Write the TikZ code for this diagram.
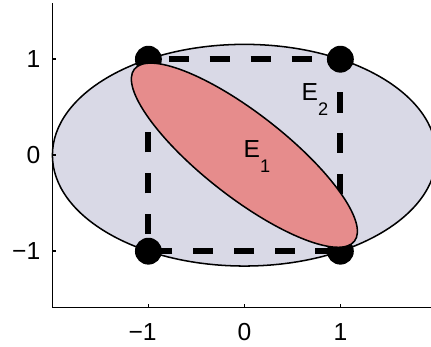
\documentclass[tikz,border=0pt]{standalone}
\usepackage{fontspec}
\setmainfont{Liberation Sans}
\definecolor{efill}{RGB}{217,217,230}
\definecolor{rfill}{RGB}{230,140,140}
\tikzset{
  axisline/.style={line width=0.5pt},
  ellline/.style={line width=0.45pt, draw=black},
  dashsq/.style={line width=1.8pt, dash pattern=on 0.213cm off 0.213cm, dash phase=0.213cm},
  dotnode/.style={circle, fill=black, inner sep=0pt, minimum size=0.28cm},
  ticklabel/.style={inner sep=0pt, font=\fontsize{7.3}{8}\selectfont},
  elabel/.style={inner sep=0pt, anchor=base west, font=\fontsize{7.3}{8}\selectfont},
}
\newcommand{\subdigit}[1]{\raisebox{-4.7pt}{\fontsize{5.4}{6}\selectfont #1}}
\begin{document}
\begin{tikzpicture}[x=1cm,y=1cm]
\useasboundingbox (-2.546,-1.998) rectangle (1.944,1.617);
\clip (-2.546,-1.998) rectangle (1.944,1.617);
% big ellipse E2
\filldraw[fill=efill, ellline] (0,0) ellipse [x radius=2, y radius=1.1547];
% dashed square
\coordinate (A) at (-1,1);
\coordinate (B) at (1,1);
\coordinate (C) at (1,-1);
\coordinate (D) at (-1,-1);
\draw[dashsq] (A) -- (B) -- (C) -- (D) -- cycle;
% dots
\node[dotnode] (dA) at (A) {};
\node[dotnode] (dB) at (B) {};
\node[dotnode] (dC) at (C) {};
\node[dotnode] (dD) at (D) {};
% small ellipse E1
\filldraw[fill=rfill, ellline, rotate=-38] (0,0) ellipse [x radius=1.455, y radius=0.435];
% labels
\node[elabel] (e2) at (0.59,0.575) {E\subdigit{2}};
\node[elabel] (e1) at (-0.015,-0.019) {E\subdigit{1}};
% axes
\coordinate (O) at (-2,-1.585);
\coordinate (T) at (-2,1.585);
\coordinate (R) at (2,-1.585);
\draw[axisline] (T) -- (O) -- (R);
\foreach \y in {-1,0,1} \draw[axisline] (-2,\y) -- ++(0.04,0);
\foreach \x in {-1,0,1} \draw[axisline] (\x,-1.585) -- ++(0,0.04);
% tick labels
\node[ticklabel, anchor=east] (ly1) at (-2.12,1) {1};
\node[ticklabel, anchor=east] (ly0) at (-2.12,0) {0};
\node[ticklabel, anchor=east] (lym) at (-2.12,-1) {−1};
\node[ticklabel] (lxm) at (-1.06,-1.846) {−1};
\node[ticklabel] (lx0) at (0,-1.846) {0};
\node[ticklabel] (lx1) at (1,-1.846) {1};
\end{tikzpicture}
\end{document}
